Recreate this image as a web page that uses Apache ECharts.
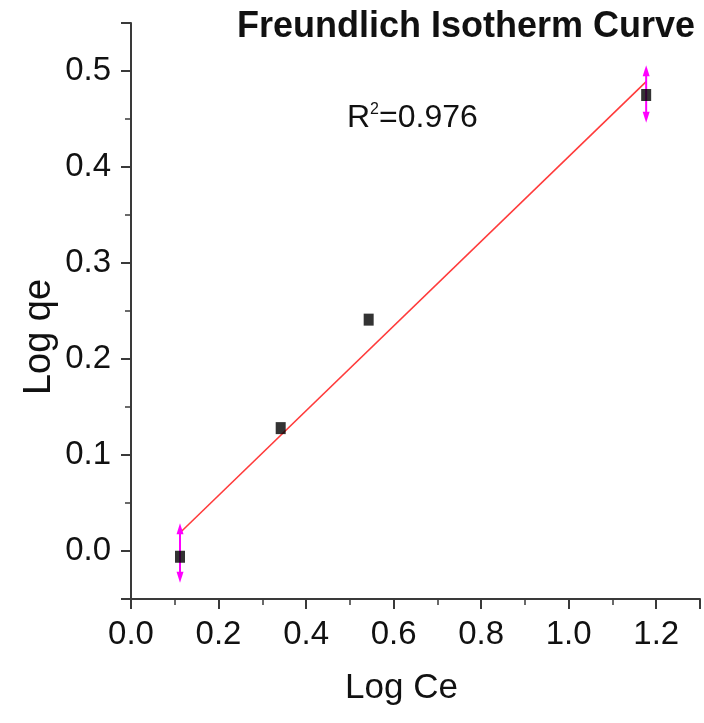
<!DOCTYPE html>
<html>
<head>
<meta charset="utf-8">
<script src="https://cdn.jsdelivr.net/npm/echarts@6/dist/echarts.min.js"></script>
<style>html,body{margin:0;padding:0;background:#fff}#c{width:704px;height:723px}</style>
</head>
<body>
<div id="c"></div>
<script>
// Data
const logCe = [0.112, 0.342, 0.543, 1.177];
const logQe = [-0.006, 0.128, 0.241, 0.475];
const errUp = [0.035, 0, 0, 0.031];
const errDown = [0.027, 0, 0, 0.029];
const fitCe = [0.112, 1.177];
const fitQe = [0.019, 0.489];
const titleText = 'Freundlich Isotherm Curve';
const r2Value = '0.976';
const xName = 'Log Ce';
const yName = 'Log qe';

const FONT = '"Liberation Sans", Arial, sans-serif';
const AX = '#3a3a3a';

const chart = echarts.init(document.getElementById('c'), null, {renderer: 'canvas'});

function renderErr(params, api) {
  const x = api.value(0), y = api.value(1), up = api.value(2), dn = api.value(3);
  if (!up && !dn) return null;
  const t = api.coord([x, y + up]);
  const b = api.coord([x, y - dn]);
  const col = '#ff00ff';
  return {
    type: 'group',
    children: [
      {type: 'line', shape: {x1: t[0], y1: t[1] + 6, x2: b[0], y2: b[1] - 6}, style: {stroke: col, lineWidth: 2}},
      {type: 'polygon', shape: {points: [[t[0], t[1]], [t[0] - 3.5, t[1] + 11], [t[0] + 3.5, t[1] + 11]]}, style: {fill: col}},
      {type: 'polygon', shape: {points: [[b[0], b[1]], [b[0] - 3.5, b[1] - 11], [b[0] + 3.5, b[1] - 11]]}, style: {fill: col}}
    ]
  };
}

const option = {
  backgroundColor: '#ffffff',
  animation: false,
  title: {
    text: titleText,
    left: 237, top: 9, padding: 0,
    textStyle: {fontFamily: FONT, fontSize: 36, fontWeight: 'bold', color: '#111'}
  },
  grid: {left: 131, right: 4, top: 23, bottom: 124, containLabel: false},
  xAxis: {
    type: 'value', min: 0, max: 1.3, interval: 0.2,
    name: xName, nameLocation: 'middle', nameGap: 72,
    nameTextStyle: {fontFamily: FONT, fontSize: 35, color: '#111', padding: [0, 28, 0, 0]},
    axisLine: {show: true, onZero: false, lineStyle: {color: AX, width: 2}},
    axisTick: {show: true, length: 10, lineStyle: {color: AX, width: 2}},
    minorTick: {show: true, splitNumber: 2, length: 6, lineStyle: {color: AX, width: 1.5}},
    axisLabel: {fontFamily: FONT, fontSize: 33, color: '#111', margin: 19, showMaxLabel: false,
      formatter: v => v.toFixed(1)},
    splitLine: {show: false}
  },
  yAxis: {
    type: 'value', min: -0.05, max: 0.55, splitNumber: 6,
    axisLine: {show: true, onZero: false, lineStyle: {color: AX, width: 2}},
    axisTick: {show: true, length: 10, lineStyle: {color: AX, width: 2}},
    minorTick: {show: true, splitNumber: 2, length: 6, lineStyle: {color: AX, width: 1.5}},
    axisLabel: {fontFamily: FONT, fontSize: 33, color: '#111', margin: 20,
      showMinLabel: false, showMaxLabel: false,
      formatter: v => (Math.abs(v * 10 - Math.round(v * 10)) < 1e-6 ? v.toFixed(1) : '')},
    splitLine: {show: false}
  },
  graphic: [
    {
      type: 'text', left: 347, top: 102,
      style: {
        text: '{r|R}{s|2}{r|=' + r2Value + '}',
        rich: {
          r: {fontFamily: FONT, fontSize: 32, fill: '#111'},
          s: {fontFamily: FONT, fontSize: 16, fill: '#111', verticalAlign: 'top', padding: [0, 0, 14, 0]}
        }
      }
    },
    {
      type: 'text', x: 40, y: 337, rotation: Math.PI / 2,
      style: {text: yName, fontFamily: FONT, fontSize: 38, fill: '#111', align: 'center', verticalAlign: 'middle'}
    }
  ],
  series: [
    {
      type: 'line', data: fitCe.map((x, i) => [x, fitQe[i]]),
      symbol: 'none', lineStyle: {color: '#ff3b3b', width: 1.6}, z: 2
    },
    {
      type: 'custom', renderItem: renderErr,
      data: logCe.map((x, i) => [x, logQe[i], errUp[i], errDown[i]]),
      encode: {x: 0, y: 1}, z: 3
    },
    {
      type: 'scatter', data: logCe.map((x, i) => [x, logQe[i]]),
      symbol: 'rect', symbolSize: [10, 12], itemStyle: {color: '#000'}, z: 4
    }
  ]
};
chart.setOption(option);
</script>
</body>
</html>
